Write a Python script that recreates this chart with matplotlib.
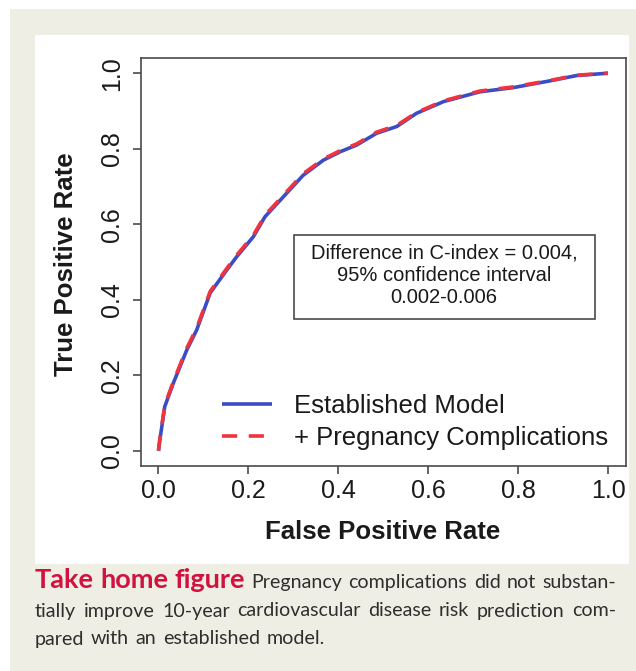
import matplotlib
matplotlib.use("Agg")
import matplotlib.pyplot as plt
from matplotlib.patches import Rectangle
from matplotlib.transforms import IdentityTransform

plt.rcParams['font.family'] = ['Liberation Sans', 'DejaVu Sans']

# ROC curve
fpr = [0.0, 0.003, 0.014, 0.033, 0.063, 0.085, 0.115, 0.152, 0.174, 0.211, 0.237,
       0.278, 0.322, 0.367, 0.404, 0.441, 0.485, 0.530, 0.574, 0.634, 0.715, 0.789,
       0.871, 0.930, 0.997, 1.0]
tpr_base = [0.0, 0.028, 0.117, 0.179, 0.267, 0.320, 0.418, 0.479, 0.514, 0.567, 0.620,
            0.673, 0.730, 0.770, 0.792, 0.810, 0.841, 0.859, 0.894, 0.925, 0.951, 0.962,
            0.980, 0.994, 1.0, 1.0]
tpr_preg = [0.0, 0.031, 0.121, 0.183, 0.272, 0.325, 0.422, 0.483, 0.518, 0.571, 0.624,
            0.677, 0.734, 0.773, 0.795, 0.813, 0.844, 0.862, 0.896, 0.927, 0.953, 0.964,
            0.981, 0.995, 1.0, 1.0]
ticks = [0.0, 0.2, 0.4, 0.6, 0.8, 1.0]
tick_labels = ['0.0', '0.2', '0.4', '0.6', '0.8', '1.0']
series_names = ['Established Model', '+ Pregnancy Complications']
box_text = 'Difference in C-index = 0.004,\n95% confidence interval\n0.002-0.006'
caption_lines = [
    [('Take', True), ('home', True), ('figure', True), ('Pregnancy', False),
     ('complications', False), ('did', False), ('not', False), ('substan-', False)],
    [('tially', False), ('improve', False), ('10-year', False), ('cardiovascular', False),
     ('disease', False), ('risk', False), ('prediction', False), ('com-', False)],
    [('pared', False), ('with', False), ('an', False), ('established', False),
     ('model.', False)],
]

W, H = 636, 671
fig = plt.figure(figsize=(W / 100, H / 100), dpi=100, facecolor='white')

def px(x, y):
    # image pixel (from top-left) -> figure fraction
    return x / W, 1 - y / H

# beige page and white panel
fig.patches.append(Rectangle(px(10, 671), 626 / W, 662 / H, transform=fig.transFigure,
                             facecolor='#efeee4', edgecolor='none', zorder=-2))
fig.patches.append(Rectangle(px(35, 564), 594 / W, 529 / H, transform=fig.transFigure,
                             facecolor='white', edgecolor='none', zorder=-1))

ax = fig.add_axes([140.5 / W, 1 - 465.8 / H, 485.5 / W, 407.6 / H])
ax.set_facecolor('white')
blue = '#3b4cc4'
red = '#f0343f'
ax.plot(fpr, tpr_base, color=blue, lw=2.6, label=series_names[0], solid_capstyle='butt')
ax.plot(fpr, tpr_preg, color=red, lw=2.6, dashes=(4.2, 3.2), label=series_names[1])
ax.set_xlim(-0.04, 1.04)
ax.set_ylim(-0.04, 1.04)
ax.set_xticks(ticks)
ax.set_xticklabels(tick_labels)
ax.set_yticks(ticks)
ax.set_yticklabels(tick_labels, rotation=90, va='center')
for s in ax.spines.values():
    s.set_color('#4a4a4a')
    s.set_linewidth(1.2)
ax.tick_params(axis='both', direction='out', length=6, width=1.2, color='#4a4a4a',
               labelsize=18, labelcolor='#1a1a1a')
ax.tick_params(axis='x', pad=3.5)
ax.tick_params(axis='y', pad=6)

fig.text(*px(383, 532), 'False Positive Rate', fontsize=18.5, fontweight='bold',
         ha='center', va='center', color='#1a1a1a')
fig.text(*px(66, 264), 'True Positive Rate', fontsize=18.5, fontweight='bold',
         rotation=90, ha='center', va='center', color='#1a1a1a')

# annotation box
ax.add_patch(Rectangle((0.302, 0.349), 0.669, 0.2225, facecolor='white',
                       edgecolor='#4a4a4a', lw=1.2, zorder=3))
ax.text(0.635, 0.4655, box_text, fontsize=14.5, ha='center', va='center',
        multialignment='center', linespacing=1.2, color='#1a1a1a', zorder=4)

ax.legend(loc='upper left', bbox_to_anchor=(0.168, 0.176), frameon=False,
          borderpad=0, borderaxespad=0, handlelength=1.95, handletextpad=0.85,
          labelspacing=0.3, fontsize=18.5, labelcolor='#1a1a1a')

# justified caption
renderer = fig.canvas.get_renderer()
cap_font = ['Lato', 'DejaVu Sans']

def measure(word, size, bold):
    t = fig.text(0, 0, word, transform=IdentityTransform(), fontsize=size,
                 family=cap_font, fontweight='bold' if bold else 'normal')
    w = t.get_window_extent(renderer).width
    t.remove()
    return w

# pick sizes so the runs fill the same width as in the page layout
reg_size = 15.0
line2_words = sum(measure(w, reg_size, b) for w, b in caption_lines[1])
reg_size = reg_size * (581 - 7 * 7.5) / line2_words
bold_size = 15.0
bold_w = sum(measure(w, bold_size, b) for w, b in caption_lines[0][:3]) + 2 * measure(' ', bold_size, True)
bold_size = bold_size * 212 / bold_w

baselines = [588, 616.5, 644.5]
x0, x1 = 35, 616
for li, words in enumerate(caption_lines):
    items = []
    for w, bold in words:
        t = fig.text(0, 0, w, transform=IdentityTransform(),
                     fontsize=bold_size if bold else reg_size, family=cap_font,
                     fontweight='bold' if bold else 'normal',
                     color='#d2123e' if bold else '#2e2e2e', va='baseline', ha='left')
        items.append((t, t.get_window_extent(renderer).width))
    total = sum(wd for _, wd in items)
    if li < len(caption_lines) - 1:
        gap = (x1 - x0 - total) / (len(items) - 1)
    else:
        gap = 6.5
    x = x0
    for t, wd in items:
        t.set_position((x, H - baselines[li]))
        x += wd + gap

fig.savefig('out.png', dpi=100)
